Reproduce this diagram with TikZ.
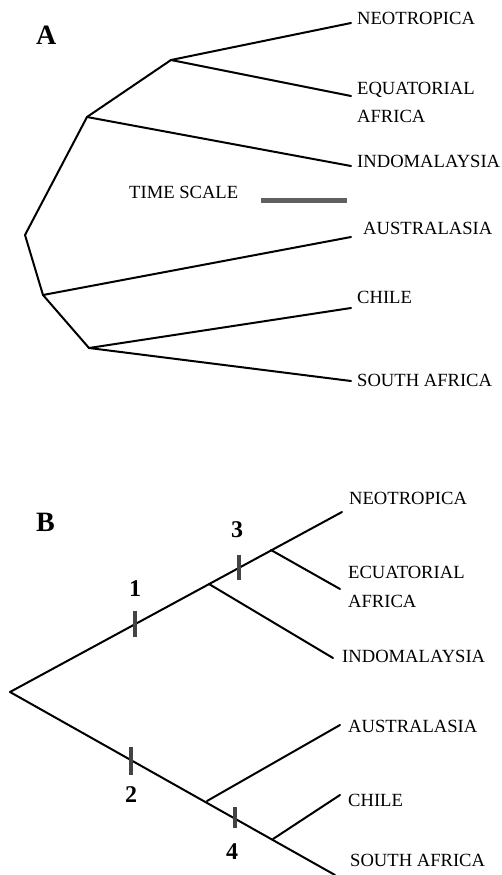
\documentclass[tikz,border=0pt]{standalone}
\usepackage{fontspec}
\setmainfont{Liberation Serif}
\definecolor{tickgray}{HTML}{444444}
\begin{document}
\begin{tikzpicture}[x=1pt,y=-1pt,
  branch/.style={line width=2pt,line cap=round,line join=round},
  tickmark/.style={line width=3.8pt,color=tickgray},
  lab/.style={anchor=base west,inner sep=0pt,font=\fontsize{18.6}{21}\selectfont},
  panel/.style={anchor=base west,inner sep=0pt,font=\fontsize{28}{30}\selectfont\bfseries},
  num/.style={inner sep=0pt,font=\fontsize{24}{26}\selectfont\bfseries}]
\useasboundingbox (0,0) rectangle (502,875);
% ---------- Panel A ----------
\node[panel] (pA) at (36,45) {A};
\coordinate (aroot) at (25,235);
\coordinate (an1) at (87,117);
\coordinate (an2) at (171,60);
\coordinate (an3) at (43,295);
\coordinate (an4) at (89,348);
\coordinate (aneo) at (351,23);
\coordinate (aequ) at (351,96);
\coordinate (aind) at (351,166);
\coordinate (aaus) at (351,237);
\coordinate (achi) at (351,308);
\coordinate (asaf) at (351,381);
\draw[branch] (an2) -- (an1) -- (aroot) -- (an3) -- (an4);
\draw[branch] (an2) -- (aneo);
\draw[branch] (an2) -- (aequ);
\draw[branch] (an1) -- (aind);
\draw[branch] (an3) -- (aaus);
\draw[branch] (an4) -- (achi);
\draw[branch] (an4) -- (asaf);
\node[lab] (lAneo) at (357,25) {NEOTROPICA};
\node[lab] (lAequ) at (357,94) {EQUATORIAL};
\node[lab] (lAafr) at (357,122) {AFRICA};
\node[lab] (lAind) at (357,167) {INDOMALAYSIA};
\node[lab] (lAaus) at (363,234) {AUSTRALASIA};
\node[lab] (lAchi) at (357,303) {CHILE};
\node[lab] (lAsaf) at (357,386) {SOUTH AFRICA};
\node[lab] (lTime) at (129,198) {TIME SCALE};
\coordinate (sbl) at (261,200.5);
\coordinate (sbr) at (347,200.5);
\draw[line width=4.8pt,color=tickgray!85] (sbl) -- (sbr);
% ---------- Panel B ----------
\node[panel] (pB) at (36,531) {B};
\coordinate (broot) at (10,692);
\coordinate (bneo) at (342,512);
\coordinate (bn1) at (209,584);
\coordinate (bn2) at (271,550);
\coordinate (bind) at (333,658);
\coordinate (bequ) at (340,589);
\coordinate (bsaf) at (335,875);
\coordinate (bn3) at (207,801);
\coordinate (bn4) at (273,839);
\coordinate (baus) at (340,725);
\coordinate (bchi) at (340,795);
\draw[branch] (broot) -- (bneo);
\draw[branch] (broot) -- (bsaf);
\draw[branch] (bn1) -- (bind);
\draw[branch] (bn2) -- (bequ);
\draw[branch] (bn3) -- (baus);
\draw[branch] (bn4) -- (bchi);
% ticks
\coordinate (t1a) at (135,611); \coordinate (t1b) at (135,637);
\coordinate (t3a) at (239,555); \coordinate (t3b) at (239,580);
\coordinate (t2a) at (131,747); \coordinate (t2b) at (131,775);
\coordinate (t4a) at (235,807); \coordinate (t4b) at (235,828);
\draw[tickmark] (t1a) -- (t1b);
\draw[tickmark] (t3a) -- (t3b);
\draw[tickmark] (t2a) -- (t2b);
\draw[tickmark] (t4a) -- (t4b);
\node[num] (n1) at (135,589) {1};
\node[num] (n3) at (237,530) {3};
\node[num] (n2) at (131,795) {2};
\node[num] (n4) at (232,852) {4};
\node[lab] (lBneo) at (349,504) {NEOTROPICA};
\node[lab] (lBequ) at (348,578) {ECUATORIAL};
\node[lab] (lBafr) at (348,607) {AFRICA};
\node[lab] (lBind) at (342,662) {INDOMALAYSIA};
\node[lab] (lBaus) at (348,732) {AUSTRALASIA};
\node[lab] (lBchi) at (348,806) {CHILE};
\node[lab] (lBsaf) at (350,866) {SOUTH AFRICA};
\end{tikzpicture}
\end{document}
